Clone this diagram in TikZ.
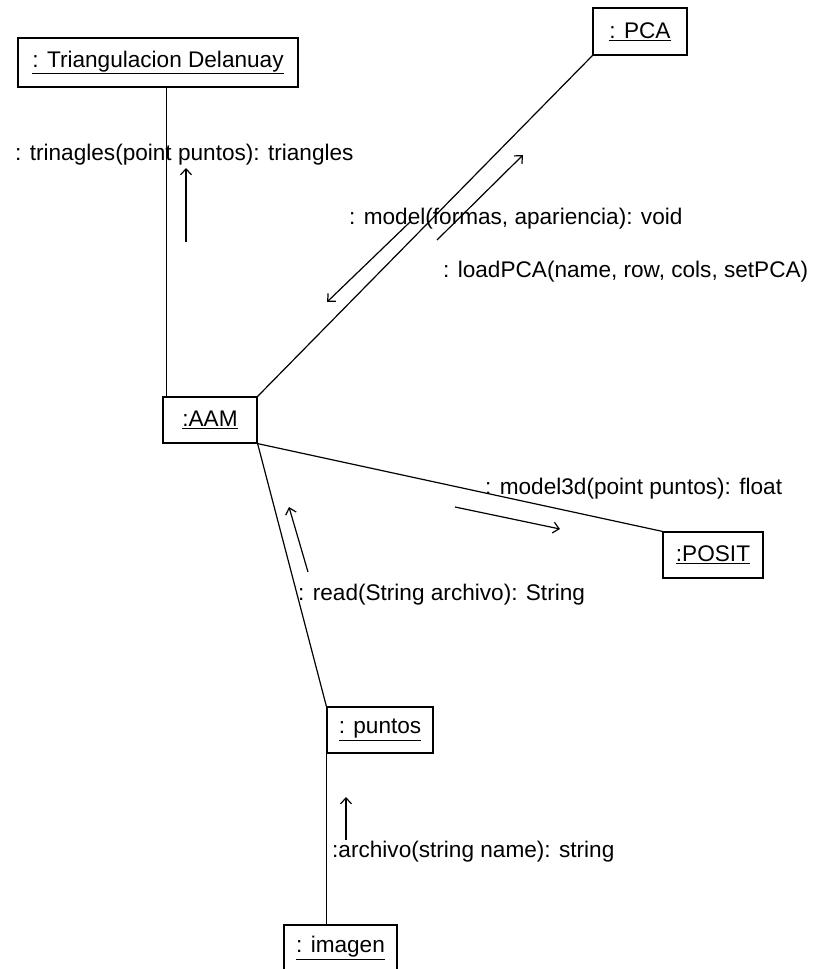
\documentclass[tikz,border=0pt]{standalone}
\usepackage{fontspec}
\setmainfont{Liberation Sans}
\usetikzlibrary{arrows.meta}
\begin{document}
\begin{tikzpicture}[x=1pt,y=-1pt,
  obj/.style={draw, line width=1.2pt, minimum height=46pt, inner sep=0pt, font=\fontsize{22.6}{27}\selectfont},
  lbl/.style={anchor=base west, inner sep=0pt, font=\fontsize{22.6}{27}\selectfont},
  conn/.style={line width=1.2pt},
  msg/.style={line width=1.2pt, -{Straight Barb[length=6pt,width=11pt]}}]
\useasboundingbox (0,0) rectangle (814,969);

% objects
\node[obj, minimum width=280pt, minimum height=49pt] (tri) at (158,62.5) {\underline{: Triangulacion Delanuay}};
\node[obj, minimum width=94pt, minimum height=47pt] (pca) at (640,31.5) {\underline{: PCA}};
\node[obj, minimum width=94pt] (aam) at (210,420) {\underline{:AAM}};
\node[obj, minimum width=100pt] (posit) at (713,555) {\underline{:POSIT}};
\node[obj, minimum width=106pt] (puntos) at (380,730) {\underline{: puntos}};
\node[obj, minimum width=113pt] (imagen) at (340.5,948) {\underline{: imagen}};

% links
\draw[conn] ([xshift=4pt]aam.north west) -- ([xshift=4pt]aam.north west |- tri.south);
\draw[conn] (pca.south west) -- (aam.north east);
\draw[conn] (aam.south east) -- (posit.north west);
\draw[conn] (aam.south east) -- (puntos.north west);
\draw[conn] (puntos.south west) -- (puntos.south west |- imagen.north);

% message arrows
\coordinate (m1a) at (186,242); \coordinate (m1b) at (186,168);
\coordinate (m2a) at (410,222); \coordinate (m2b) at (327,302);
\coordinate (m3a) at (437,240); \coordinate (m3b) at (523,155);
\coordinate (m4a) at (455,507); \coordinate (m4b) at (560,529);
\coordinate (m5a) at (308,572); \coordinate (m5b) at (289,507);
\coordinate (m6a) at (346,840); \coordinate (m6b) at (346,797);
\draw[msg] (m1a) -- (m1b);
\draw[msg] (m2a) -- (m2b);
\draw[msg] (m3a) -- (m3b);
\draw[msg] (m4a) -- (m4b);
\draw[msg] (m5a) -- (m5b);
\draw[msg] (m6a) -- (m6b);

% message labels
\node[lbl] (l1) at (15,160) {: trinagles(point puntos): triangles};
\node[lbl] (l2) at (349,224) {: model(formas, apariencia): void};
\node[lbl] (l3) at (443,277) {: loadPCA(name, row, cols, setPCA)};
\node[lbl] (l4) at (485,494) {: model3d(point puntos): float};
\node[lbl] (l5) at (298,600) {: read(String archivo): String};
\node[lbl] (l6) at (332,857) {:archivo(string name): string};
\end{tikzpicture}
\end{document}
